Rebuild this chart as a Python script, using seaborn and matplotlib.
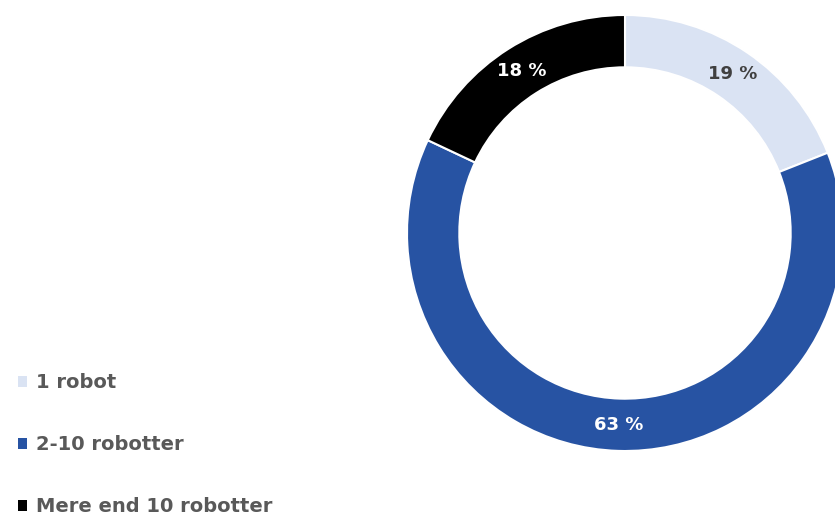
import matplotlib
matplotlib.use("Agg")
import matplotlib.pyplot as plt
import seaborn as sns

categories = ["1 robot", "2-10 robotter", "Mere end 10 robotter"]
shares = [19, 63, 18]
colors = ["#DAE3F3", "#2753A3", "#000000"]
label_colors = ["#404040", "white", "white"]

sns.set_theme(style="white")
plt.rcParams['font.family'] = ['DejaVu Sans']

fig = plt.figure(figsize=(8.35, 5.18), dpi=100)
# place the donut: centre (625, 233) px, radius 218 px
W, H = 835, 518
cx, cy, r = 625, 233, 218
ax = fig.add_axes([(cx - r) / W, (H - cy - r) / H, 2 * r / W, 2 * r / H])

wedges, texts, autotexts = ax.pie(
    shares, colors=colors, startangle=90, counterclock=False,
    radius=1.0, autopct=lambda p: f"{round(p)} %", pctdistance=0.88,
    wedgeprops=dict(width=0.24, edgecolor="white", linewidth=1.5),
    textprops=dict(fontsize=13, fontweight="bold"))
for t, c in zip(autotexts, label_colors):
    t.set_color(c)
ax.set_xlim(-1, 1)
ax.set_ylim(-1, 1)
ax.set_aspect("equal")
ax.set_axis_off()

leg = fig.legend(wedges, categories, loc="lower left",
                 bbox_to_anchor=(0.0, -0.03), frameon=False,
                 handlelength=0.5, handleheight=0.5, handletextpad=0.45,
                 labelspacing=2.2,
                 prop=dict(size=14, weight="bold"))
for t in leg.get_texts():
    t.set_color("#595959")
for h in leg.legend_handles:
    h.set_edgecolor("none")

fig.savefig("out.png", dpi=100)
